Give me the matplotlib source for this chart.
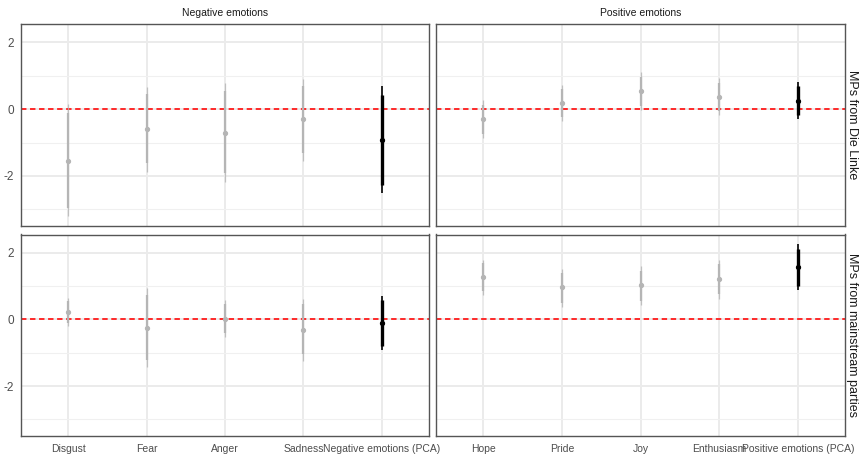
import matplotlib.pyplot as plt
import numpy as np

# data
neg_labels = ['Disgust', 'Fear', 'Anger', 'Sadness', 'Negative emotions (PCA)']
pos_labels = ['Hope', 'Pride', 'Joy', 'Enthusiasm', 'Positive emotions (PCA)']
row_labels = ['MPs from Die Linke', 'MPs from mainstream parties']

# Die Linke, negative
linke_neg_est = [-1.55, -0.59, -0.71, -0.31, -0.93]
linke_neg_lo95 = [-3.21, -1.87, -2.17, -1.54, -2.52]
linke_neg_hi95 = [0.14, 0.67, 0.77, 0.90, 0.69]
linke_neg_lo90 = [-2.96, -1.62, -1.92, -1.32, -2.27]
linke_neg_hi90 = [-0.13, 0.45, 0.54, 0.69, 0.42]

# Die Linke, positive
linke_pos_est = [-0.31, 0.19, 0.54, 0.35, 0.25]
linke_pos_lo95 = [-0.87, -0.35, -0.03, -0.18, -0.31]
linke_pos_hi95 = [0.27, 0.72, 1.11, 0.92, 0.81]
linke_pos_lo90 = [-0.73, -0.23, 0.09, -0.06, -0.18]
linke_pos_hi90 = [0.12, 0.59, 0.96, 0.77, 0.69]

# mainstream, negative
main_neg_est = [0.23, -0.25, 0.02, -0.32, -0.12]
main_neg_lo95 = [-0.20, -1.44, -0.52, -1.24, -0.92]
main_neg_hi95 = [0.65, 0.95, 0.57, 0.60, 0.70]
main_neg_lo90 = [-0.10, -1.22, -0.42, -1.04, -0.80]
main_neg_hi90 = [0.55, 0.73, 0.45, 0.45, 0.57]

# mainstream, positive
main_pos_est = [1.26, 0.96, 1.02, 1.21, 1.57]
main_pos_lo95 = [0.72, 0.37, 0.42, 0.60, 0.87]
main_pos_hi95 = [1.79, 1.52, 1.59, 1.79, 2.26]
main_pos_lo90 = [0.84, 0.50, 0.55, 0.75, 0.99]
main_pos_hi90 = [1.69, 1.39, 1.46, 1.66, 2.11]

plt.rcParams['font.family'] = ['Liberation Sans', 'DejaVu Sans']
plt.rcParams['axes.unicode_minus'] = False

fig = plt.figure(figsize=(8.62, 4.59), dpi=100)
W, H = 862, 459

def make_ax(x0, y0, x1, y1):
    return fig.add_axes([x0 / W, 1 - y1 / H, (x1 - x0) / W, (y1 - y0) / H])

panels = [
    (make_ax(21, 24, 429, 226), neg_labels, linke_neg_est, linke_neg_lo95, linke_neg_hi95, linke_neg_lo90, linke_neg_hi90),
    (make_ax(436, 24, 845, 226), pos_labels, linke_pos_est, linke_pos_lo95, linke_pos_hi95, linke_pos_lo90, linke_pos_hi90),
    (make_ax(21, 234.5, 429, 436), neg_labels, main_neg_est, main_neg_lo95, main_neg_hi95, main_neg_lo90, main_neg_hi90),
    (make_ax(436, 234.5, 845, 436), pos_labels, main_pos_est, main_pos_lo95, main_pos_hi95, main_pos_lo90, main_pos_hi90),
]

for i, (ax, labels, est, lo95, hi95, lo90, hi90) in enumerate(panels):
    x = np.arange(1, len(labels) + 1)
    ax.set_xlim(0.4, len(labels) + 0.6)
    ax.set_ylim(-3.5, 2.55)
    ax.set_yticks([-2, 0, 2])
    ax.set_yticks([-3, -1, 1], minor=True)
    ax.set_xticks(x)
    ax.grid(True, which='major', color='#ebebeb', lw=1.4, zorder=0)
    ax.grid(True, which='minor', axis='y', color='#f0f0f0', lw=0.8, zorder=0)
    ax.set_axisbelow(True)
    for s in ax.spines.values():
        s.set_color('#555555')
        s.set_linewidth(1.0)
    ax.tick_params(axis='x', length=0, labelsize=7.5, colors='#4d4d4d', pad=6)
    ax.tick_params(axis='y', length=0, labelsize=8.5, colors='#4d4d4d', pad=5)
    ax.tick_params(which='minor', length=0)
    if i < 2:
        ax.set_xticklabels([])
    else:
        ax.set_xticklabels(labels)
    if i % 2 == 1:
        ax.set_yticklabels([])
    ax.axhline(0, color='#ff1a1a', ls=(0, (3, 2)), lw=1.3, zorder=2)

    cols = ['#b5b5b5'] * 4 + ['black']
    for j in range(len(x)):
        c = cols[j]
        ax.vlines(x[j], lo95[j], hi95[j], color=c, lw=0.9 if j < 4 else 1.2, alpha=0.8 if j < 4 else 1, zorder=3)
        ax.vlines(x[j], lo90[j], hi90[j], color=c, lw=1.6 if j < 4 else 2.4, zorder=4)
        ax.plot(x[j], est[j], 'o', color=c, ms=2.8, zorder=5)

panels[0][0].set_title('Negative emotions', fontsize=7.5, color='#1a1a1a', pad=6)
panels[1][0].set_title('Positive emotions', fontsize=7.5, color='#1a1a1a', pad=6)
for ax, lab in [(panels[1][0], row_labels[0]), (panels[3][0], row_labels[1])]:
    ax.text(1.018, 0.5, lab, transform=ax.transAxes, rotation=-90, va='center', ha='center',
            fontsize=9, color='#1a1a1a')

plt.savefig('out.png', dpi=100)
